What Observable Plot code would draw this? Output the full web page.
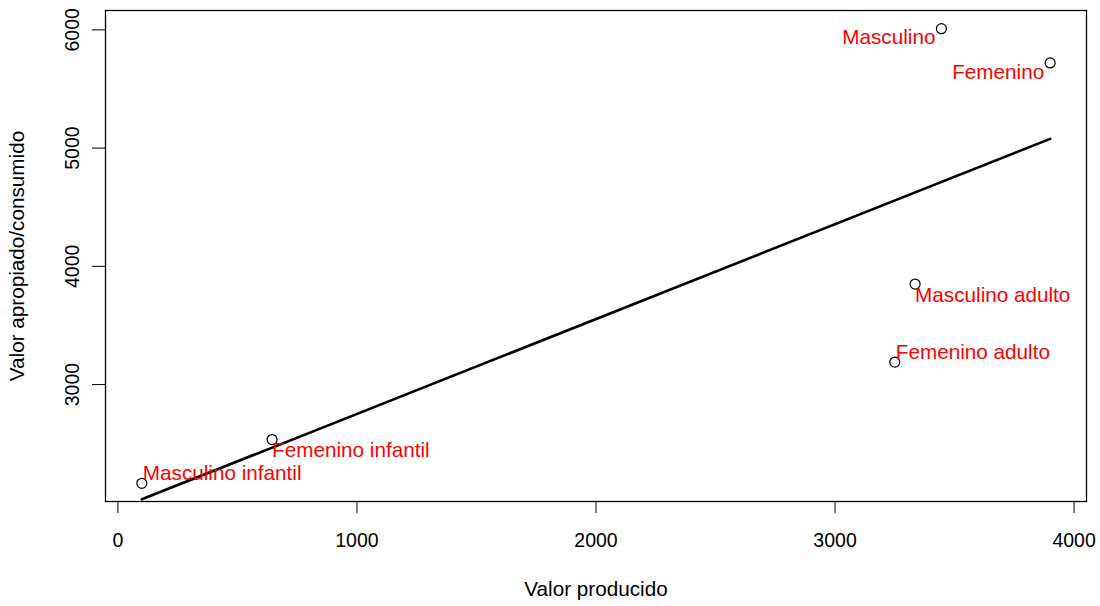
<!DOCTYPE html>
<html><head><meta charset="utf-8">
<script src="https://cdn.jsdelivr.net/npm/d3@7"></script>
<script src="https://cdn.jsdelivr.net/npm/@observablehq/plot@0.6"></script>
<style>body{margin:0;background:#fff}</style>
</head><body><div id="chart"></div>
<script>
const labels = ["Masculino", "Femenino", "Masculino adulto", "Femenino adulto", "Femenino infantil", "Masculino infantil"];
const producido = [3445, 3900, 3335, 3250, 645, 100];
const consumido = [6010, 5720, 3850, 3190, 2535, 2165];
const xTicks = [0, 1000, 2000, 3000, 4000];
const yTicks = [3000, 4000, 5000, 6000];
const xTitle = "Valor producido";
const yTitle = "Valor apropiado/consumido";

const data = labels.map((l, i) => ({label: l, x: producido[i], y: consumido[i]}));
function rExtent(v) { const [a, b] = d3.extent(v); const p = (b - a) * 0.04; return [a - p, b + p]; }

const placements = [
  {names: ["Masculino", "Femenino"], textAnchor: "end", dx: -6, dy: 9},
  {names: ["Masculino adulto", "Femenino infantil"], textAnchor: "start", dx: 0, dy: 11},
  {names: ["Femenino adulto", "Masculino infantil"], textAnchor: "start", dx: 1, dy: -10}
];
const font = "'Liberation Sans', Arial, Helvetica, sans-serif";
const fsTick = 19.5;
const fsText = 20.7;

const chart = Plot.plot({
  width: 1100, height: 606,
  marginLeft: 105, marginRight: 14, marginTop: 10, marginBottom: 105,
  style: {fontFamily: font, fontSize: fsText + "px", background: "#fff", color: "#000"},
  x: {domain: rExtent(producido)},
  y: {domain: rExtent(consumido)},
  marks: [
    Plot.frame({stroke: "#000", strokeWidth: 1.3}),
    Plot.axisX({ticks: xTicks, tickSize: 12, tickPadding: 20, fontSize: fsTick, tickFormat: d3.format("d"), label: null}),
    Plot.axisX({ticks: [], label: xTitle, labelAnchor: "center", labelArrow: "none", labelOffset: 94, fontSize: fsText}),
    Plot.axisY({ticks: yTicks, tickSize: 13, tickPadding: 14, tickRotate: -90, fontSize: fsTick, tickFormat: d3.format("d"), label: null}),
    Plot.axisY({ticks: [], label: yTitle, labelAnchor: "center", labelArrow: "none", labelOffset: 96, fontSize: fsText}),
    Plot.linearRegressionY(data, {x: "x", y: "y", ci: 0, stroke: "#000", strokeWidth: 2.6}),
    Plot.dot(data, {x: "x", y: "y", r: 5, stroke: "#000", strokeWidth: 1.2, fill: "none"}),
    ...placements.map(p => Plot.text(data.filter(d => p.names.includes(d.label)), {
      x: "x", y: "y", text: "label", fill: "#ff0000", fontSize: fsText,
      textAnchor: p.textAnchor, dx: p.dx, dy: p.dy
    }))
  ]
});
document.getElementById("chart").append(chart);
</script>
</body></html>
